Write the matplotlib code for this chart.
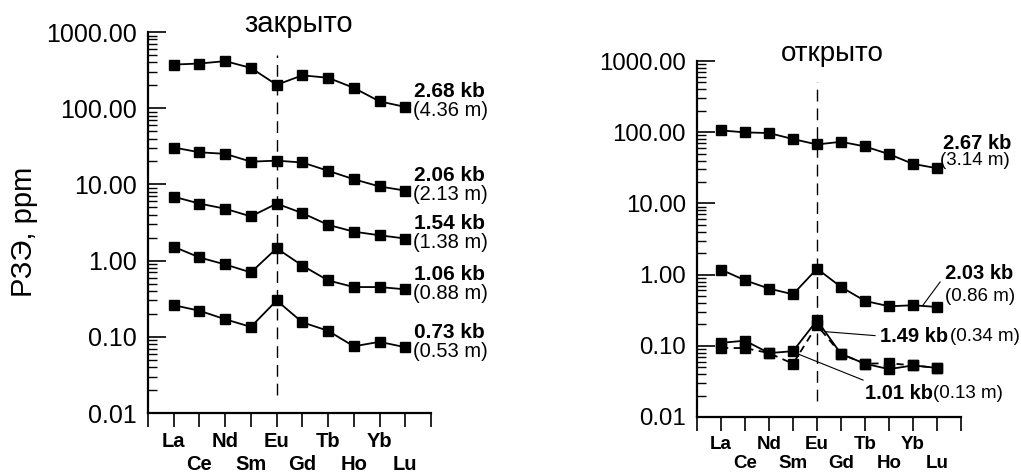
import matplotlib.pyplot as plt
from matplotlib.ticker import LogLocator, FuncFormatter, NullFormatter

plt.rcParams['font.family'] = ['Liberation Sans', 'DejaVu Sans']

elements = ['La', 'Ce', 'Nd', 'Sm', 'Eu', 'Gd', 'Tb', 'Ho', 'Yb', 'Lu']
xpos = list(range(1, len(elements) + 1))

# закрыто (closed system)
closed_268 = [374, 386, 415, 338, 203, 270, 251, 185, 123, 104]
closed_206 = [30.5, 26.4, 25.2, 19.9, 20.5, 19.4, 15.1, 11.7, 9.4, 8.3]
closed_154 = [6.9, 5.6, 4.8, 3.8, 5.6, 4.2, 2.95, 2.4, 2.15, 1.95]
closed_106 = [1.52, 1.10, 0.89, 0.70, 1.45, 0.86, 0.55, 0.45, 0.45, 0.42]
closed_073 = [0.26, 0.22, 0.17, 0.135, 0.30, 0.155, 0.12, 0.075, 0.086, 0.073]
closed_kb = ['2.68 kb', '2.06 kb', '1.54 kb', '1.06 kb', '0.73 kb']
closed_m = ['(4.36 m)', '(2.13 m)', '(1.38 m)', '(0.88 m)', '(0.53 m)']

# открыто (open system)
open_267 = [106, 99.5, 97.3, 80.1, 67.3, 73.4, 63.1, 49.2, 35.9, 31.2]
open_203 = [1.175, 0.832, 0.636, 0.529, 1.21, 0.671, 0.427, 0.359, 0.371, 0.351]
open_149 = [0.110, 0.118, 0.079, 0.084, 0.228, 0.077, 0.056, 0.047, 0.053, 0.049]
open_101 = [0.093, 0.093, 0.079, 0.056, 0.194, 0.077, 0.056, 0.057, 0.053, 0.049]

# La, Nd, Eu, Tb, Yb on the upper row, Ce, Sm, Gd, Ho, Lu on the lower row
row1_pos = xpos[0::2]
row1_lab = elements[0::2]
row2_pos = [0] + xpos[1::2] + [11]
row2_lab = [''] + elements[1::2] + ['']


def setup(ax, ysize, xsize, pad2):
    ax.set_yscale('log')
    ax.set_ylim(0.01, 1000)
    ax.set_xlim(0, 11)
    ax.yaxis.set_major_locator(LogLocator(base=10, numticks=10))
    ax.yaxis.set_minor_locator(LogLocator(base=10, subs=range(2, 10), numticks=10))
    ax.yaxis.set_major_formatter(FuncFormatter(lambda v, p: f'{v:.2f}'))
    ax.yaxis.set_minor_formatter(NullFormatter())
    ax.set_xticks(row1_pos)
    ax.set_xticklabels(row1_lab, fontweight='bold', fontsize=xsize)
    ax.set_xticks(row2_pos, minor=True)
    ax.set_xticklabels(row2_lab, minor=True, fontweight='bold', fontsize=xsize)
    ax.tick_params(axis='y', which='major', direction='in', length=13, width=1.2,
                   pad=8, labelsize=ysize)
    ax.tick_params(axis='y', which='minor', direction='in', length=6.5, width=1.0)
    ax.tick_params(axis='x', which='major', direction='out', length=10, width=1.2, pad=4)
    ax.tick_params(axis='x', which='minor', direction='out', length=10, width=1.2, pad=pad2)
    for s in ['top', 'right']:
        ax.spines[s].set_visible(False)
    for s in ['left', 'bottom']:
        ax.spines[s].set_linewidth(1.6)
    ax.plot([5, 5], [0.017, 500], color='black', lw=1.0, dashes=(8.5, 5))


fig = plt.figure(figsize=(10.21, 4.73), dpi=100)
ax1 = fig.add_axes([0.145, 0.1268, 0.2771, 0.8055])
ax2 = fig.add_axes([0.6827, 0.1184, 0.2585, 0.7526])
setup(ax1, 18, 14.5, 20)
setup(ax2, 17.3, 13.5, 17.5)

mk = dict(marker='s', markersize=7.4, color='black', lw=1.3)

# left panel
for vals, kb, m in zip([closed_268, closed_206, closed_154, closed_106, closed_073],
                       closed_kb, closed_m):
    ax1.plot(xpos, vals, **mk)
    ax1.annotate(kb, xy=(xpos[-1], vals[-1]), xytext=(9, 15), textcoords='offset pixels',
                 fontsize=15, fontweight='bold', va='center', ha='left')
    ax1.annotate(m, xy=(xpos[-1], vals[-1]), xytext=(8, -4), textcoords='offset pixels',
                 fontsize=14.5, va='center', ha='left')
ax1.text(5.84, 1000, 'закрыто', fontsize=21, ha='center', va='baseline')

# right panel
ax2.plot(xpos, open_267, **mk)
ax2.plot(xpos, open_203, **mk)
ax2.plot(xpos, open_101, marker='s', markersize=7.4, color='black', lw=1.3,
         dashes=(4, 3))
ax2.plot(xpos, open_149, **mk)
ax2.text(5.63, 1000, 'открыто', fontsize=20, ha='center', va='baseline')

bold = dict(fontsize=14.5, fontweight='bold', va='center')
plain = dict(fontsize=13.5, va='center')
ax2.text(10.25, 70.5, '2.67 kb', **bold)
ax2.text(10.13, 40.7, '(3.14 m)', **plain)
ax2.text(10.33, 1.02, '2.03 kb', **bold)
ax2.text(10.33, 0.50, '(0.86 m)', **plain)
ax2.plot([9.42, 10.13], [0.374, 0.787], color='black', lw=0.8)
ax2.text(7.63, 0.137, '1.49 kb', **bold)
ax2.text(10.56, 0.137, '(0.34 m)', **plain)
ax2.plot([5.33, 7.42], [0.158, 0.139], color='black', lw=0.8)
ax2.text(7.0, 0.0217, '1.01 kb', **bold)
ax2.text(9.82, 0.0217, '(0.13 m)', **plain)
ax2.plot([4.21, 6.92], [0.0767, 0.033], color='black', lw=0.8, clip_on=False)

fig.text(24 / 1021, 1 - 232 / 473, 'РЗЭ, ppm', rotation=90, fontsize=21,
         ha='center', va='center')

fig.savefig('out.png', dpi=100)
